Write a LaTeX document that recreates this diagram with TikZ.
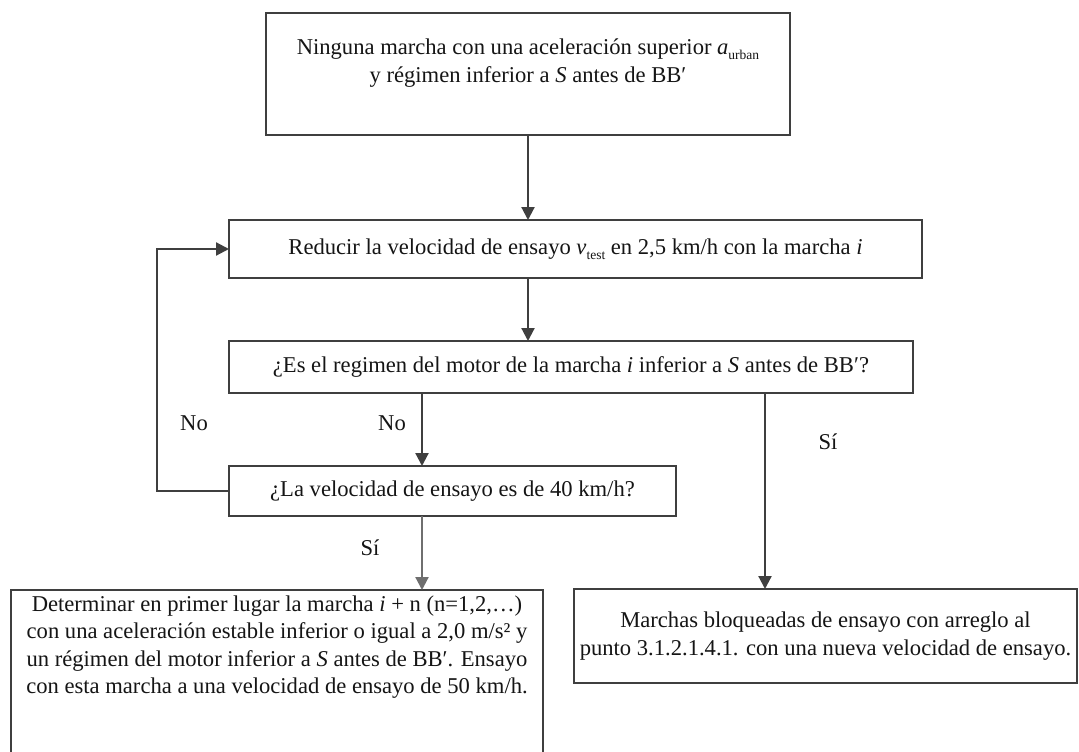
\documentclass[tikz,border=0pt]{standalone}
\usepackage{fontspec}
\setmainfont{Liberation Serif}
\usetikzlibrary{arrows.meta}
\definecolor{edge}{HTML}{3F3F3F}
\definecolor{ink}{HTML}{151515}
% small upright subscript used after italic symbols
\newcommand{\lowsub}[1]{\raisebox{-0.22em}{\fontsize{13.5}{13.5}\selectfont #1}}
\tikzset{
  every node/.style={text=ink, font=\fontsize{22.6}{27.5}\selectfont},
  box/.style={draw=edge, line width=2.7pt, rectangle, inner sep=0pt, outer sep=0pt, align=center},
  plain/.style={inner sep=0pt, outer sep=0pt, align=center},
  conn/.style={draw=edge, line width=2.2pt, -{Triangle[length=13pt,width=13pt]}},
  lbl/.style={inner sep=0pt}
}
\begin{document}
\begin{tikzpicture}[x=1pt,y=-1pt]
  \useasboundingbox (0,0) rectangle (1079,752);
  \clip (0,0) rectangle (1079,752);
  \fill[white] (0,0) rectangle (1079,752);

  % boxes
  \node[box, minimum width=524pt, minimum height=122pt] (b1) at (528,74) {};
  \node[plain] (t1) at (528,63) {Ninguna marcha con una aceleración superior \textit{a}\lowsub{urban}\\y régimen inferior a \textit{S} antes de BB′};

  \node[box, minimum width=693pt, minimum height=58pt] (b2) at (575.5,249)
    {Reducir la velocidad de ensayo \textit{v}\lowsub{test} en 2,5 km/h con la marcha \textit{i}};

  \node[box, minimum width=684pt, minimum height=52pt] (b3) at (571,367)
    {¿Es el regimen del motor de la marcha \textit{i} inferior a \textit{S} antes de BB′?};

  \node[box, minimum width=447pt, minimum height=50pt] (b4) at (452.5,491)
    {¿La velocidad de ensayo es de 40 km/h?};

  \node[box, minimum width=532pt, minimum height=185pt] (b5) at (277,682.5) {};
  \node[plain] (t5) at (277,647)
    {Determinar en primer lugar la marcha \textit{i} + n (n=1,2,…)\\
     con una aceleración estable inferior o igual a 2,0 m/s² y\\
     un régimen del motor inferior a \textit{S} antes de BB′. Ensayo\\
     con esta marcha a una velocidad de ensayo de 50 km/h.};

  \node[box, minimum width=503pt, minimum height=94pt] (b6) at (825.5,636)
    {Marchas bloqueadas de ensayo con arreglo al\\punto 3.1.2.1.4.1. con una nueva velocidad de ensayo.};

  % columns of the vertical connectors
  \coordinate (colA) at (422,0);
  \coordinate (colB) at (765,0);
  \coordinate (loopx) at (157,0);

  % connectors
  \draw[conn] (b1.south) -- (b1.south |- b2.north);
  \draw[conn] (b2.south -| b1.south) -- (b3.north -| b1.south);
  \draw[conn] (b3.south -| colA) -- (b4.north -| colA);
  \draw[conn, draw=edge!75] (b4.south -| colA) -- (b5.north -| colA);
  \draw[conn] (b3.south -| colB) -- (b6.north -| colB);
  \draw[conn] (b4.west) -- (b4.west -| loopx) |- (b2.west);

  % branch labels
  \node[lbl] (no1) at (194,423) {No};
  \node[lbl] (no2) at (392,423) {No};
  \node[lbl] (si1) at (370,548) {Sí};
  \node[lbl] (si2) at (828,442) {Sí};
\end{tikzpicture}
\end{document}
